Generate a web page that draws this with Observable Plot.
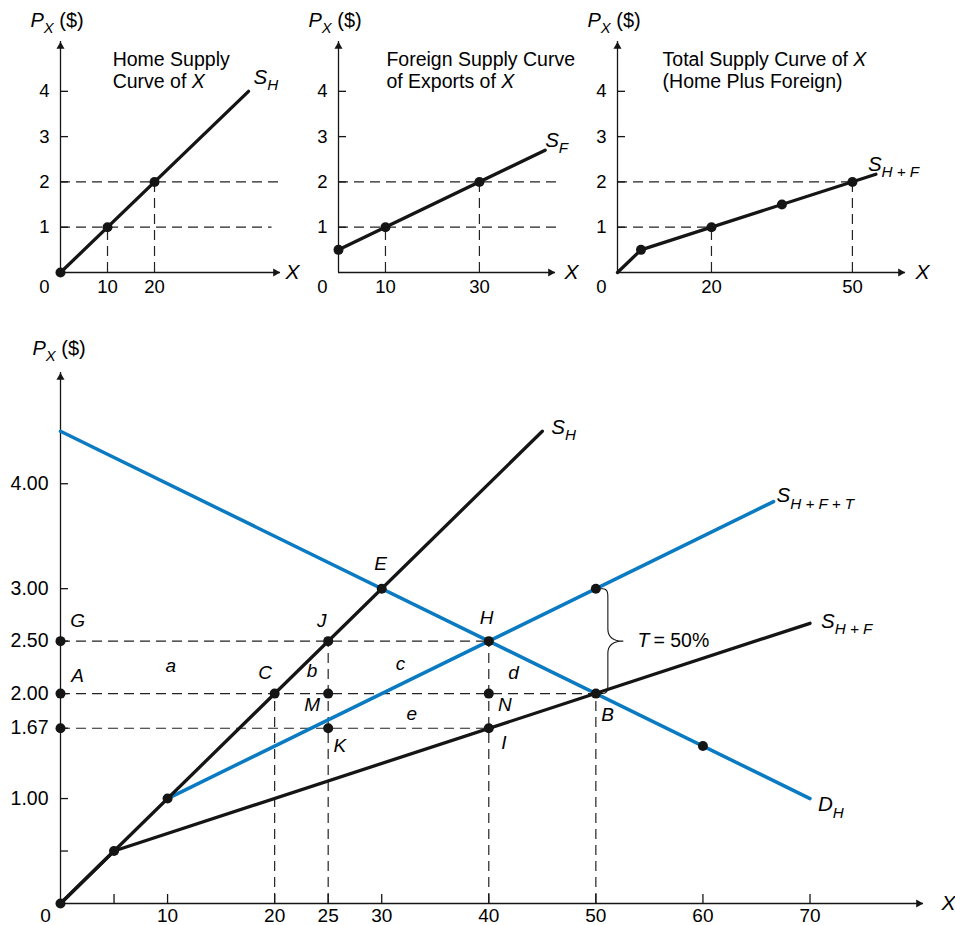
<!DOCTYPE html>
<html><head><meta charset="utf-8">
<script src="https://cdn.jsdelivr.net/npm/d3@7"></script>
<script src="https://cdn.jsdelivr.net/npm/@observablehq/plot@0.6"></script>
<style>
body{margin:0;background:#fff;}
#wrap{position:relative;width:955px;height:925px;overflow:hidden;}
.layer{position:absolute;left:0;}
</style></head><body><div id="wrap"></div>
<script>
// ---------- DATA: top panels ----------
const p1Curve = [{x:0,y:0},{x:40,y:4}];
const p1Dots = [{x:0,y:0},{x:10,y:1},{x:20,y:2}];
const p1DashH = [{y:2,x2:47.5},{y:1,x2:45}];
const p1DashV = [{x:10,y2:1},{x:20,y2:2}];
const p1XTicks = [10,20];
const p1Title = [{t:"Home Supply",x:11.1,y:4.70},{t:"§n:Curve of |i:X",x:11.1,y:4.21}];
const p1CurveLabel = "§i:S|ib:H";

const p2Curve = [{x:0,y:0.5},{x:44,y:2.7}];
const p2Dots = [{x:0,y:0.5},{x:10,y:1},{x:30,y:2}];
const p2DashH = [{y:2,x2:47.5},{y:1,x2:47.5}];
const p2DashV = [{x:10,y2:1},{x:30,y2:2}];
const p2XTicks = [10,30];
const p2Title = [{t:"Foreign Supply Curve",x:10.2,y:4.70},{t:"§n:of Exports of |i:X",x:10.2,y:4.21}];
const p2CurveLabel = "§i:S|ib:F";

const p3Curve = [{x:0,y:0},{x:5,y:0.5},{x:55,y:2.17}];
const p3Dots = [{x:5,y:0.5},{x:20,y:1},{x:35,y:1.5},{x:50,y:2}];
const p3DashH = [{y:2,x2:50},{y:1,x2:20}];
const p3DashV = [{x:20,y2:1},{x:50,y2:2}];
const p3XTicks = [20,50];
const p3Title = [{t:"§n:Total Supply Curve of |i:X",x:9.6,y:4.70},{t:"(Home Plus Foreign)",x:9.6,y:4.21}];
const p3CurveLabel = "§i:S|ib:H + F";

const topYTicks = [1,2,3,4];

// ---------- DATA: main panel ----------
const sH   = [{x:0,y:0},{x:45,y:4.5}];
const sHF  = [{x:0,y:0},{x:5,y:0.5},{x:70,y:2.67}];
const dH   = [{x:0,y:4.5},{x:70,y:1.0}];
const sHFT = [{x:10,y:1},{x:66.6,y:3.83}];
const mainDots = [
  {x:0,y:0},{x:5,y:0.5},{x:10,y:1},{x:20,y:2},{x:25,y:2.5},{x:30,y:3},
  {x:40,y:2.5},{x:50,y:2},{x:50,y:3},{x:60,y:1.5},{x:25,y:2},{x:25,y:1.67},
  {x:40,y:2},{x:40,y:1.67},{x:0,y:2.5},{x:0,y:2},{x:0,y:1.67}
];
const mainDashH = [{y:2.5,x2:40},{y:2,x2:50},{y:1.67,x2:40}];
const mainDashV = [{x:20,y2:2},{x:25,y2:2.5},{x:40,y2:2.5},{x:50,y2:2}];
const mainXTickMarks = [5,10,20,25,30,40,50,60,70];
const mainXTickLabels = [10,20,25,30,40,50,60,70];
const mainYTickMarks = [0.5,1,1.67,2,2.5,3,4];
const mainYTickVals = [1,1.67,2,2.5,3,4];
const mainYTickLabels = ["1.00","1.67","2.00","2.50","3.00","4.00"];
const pointLabels = [
  {t:"G",x:1.6,y:2.69},{t:"A",x:1.6,y:2.17},{t:"a",x:10.3,y:2.26},
  {t:"C",x:19.1,y:2.2},{t:"J",x:24.4,y:2.69},{t:"b",x:23.5,y:2.22},
  {t:"M",x:23.5,y:1.89},{t:"K",x:26.1,y:1.5},{t:"c",x:31.75,y:2.28},
  {t:"e",x:32.8,y:1.81},{t:"E",x:29.9,y:3.24},{t:"H",x:39.8,y:2.72},
  {t:"d",x:42.3,y:2.2},{t:"N",x:41.5,y:1.89},{t:"B",x:51.1,y:1.8},
  {t:"I",x:41.4,y:1.53}
];
const tariff = {x:50, yLow:2, yHigh:3, label:"§i:T|n:\u2009= 50%", labelX:53.9};
const curveLabels = [
  {t:"§i:S|ib:H", ref:sH[1], dx:9, dy:-4},
  {t:"§i:S|ib:H + F + T", ref:sHFT[1], dx:3, dy:-6},
  {t:"§i:S|ib:H + F", ref:sHF[2], dx:11, dy:-2},
  {t:"§i:D|ib:H", ref:dH[1], dx:8, dy:6}
];

// ---------- helpers ----------
const FONT = '"Liberation Sans", Arial, Helvetica, sans-serif';
const INK = "#151515";
const BLUE = "#0a7bc2";
const DASH = {stroke:"#222", strokeWidth:1.2, strokeDasharray:"10,6"};
const wrap = document.getElementById("wrap");

function richify(svg){
  svg.querySelectorAll("text").forEach(el => {
    const s = el.textContent;
    if (!s.startsWith("§")) return;
    const fs = parseFloat(getComputedStyle(el).fontSize) || 18;
    el.textContent = "";
    el.style.whiteSpace = "pre";
    let sub = false;
    for (const seg of s.slice(1).split("|")) {
      const k = seg.indexOf(":");
      const f = seg.slice(0,k), t = seg.slice(k+1);
      const ts = document.createElementNS("http://www.w3.org/2000/svg","tspan");
      ts.textContent = t;
      ts.setAttribute("font-style", f.includes("i") ? "italic" : "normal");
      const b = f.includes("b");
      if (b) ts.setAttribute("font-size", (fs*0.74).toFixed(1));
      if (b !== sub) ts.setAttribute("dy", ((b ? 1 : -1) * fs * 0.32).toFixed(1));
      sub = b;
      el.appendChild(ts);
    }
  });
}

function place(svg, top){
  const d = document.createElement("div");
  d.className = "layer";
  d.style.top = top + "px";
  d.appendChild(svg);
  wrap.appendChild(d);
  richify(svg);
}

// ---------- top panels ----------
function topPanel(o){
  const yMax = 5.1;
  const kx = (o.right - o.left) / o.xMax;
  return Plot.plot({
    width: 955, height: 300,
    style:{fontFamily:FONT, fontSize:"18px", background:"transparent", overflow:"visible"},
    x:{type:"linear", domain:[0,o.xMax], range:[o.left,o.right], axis:null},
    y:{type:"linear", domain:[0,yMax], range:[272,41], axis:null},
    marks:[
      Plot.ruleY(o.dashH, {y:"y", x1:0, x2:"x2", ...DASH}),
      Plot.ruleX(o.dashV, {x:"x", y1:0, y2:"y2", ...DASH}),
      Plot.ruleX([0], {y1:0, y2:yMax, stroke:INK, strokeWidth:1.3}),
      Plot.ruleY([0], {x1:0, x2:o.xMax, stroke:INK, strokeWidth:1.3}),
      Plot.dot([0], {x:0, y:yMax, symbol:"triangle", r:3, fill:INK, stroke:null, dy:5}),
      Plot.dot([0], {x:o.xMax, y:0, symbol:"triangle", r:3, fill:INK, stroke:null, dx:-5, rotate:90}),
      Plot.ruleY(topYTicks, {y:d=>d, x1:0, x2:8/kx, stroke:INK, strokeWidth:1.3}),
      Plot.text(topYTicks, {x:0, y:d=>d, text:d=>String(d), textAnchor:"end", dx:-11, fontSize:18.5}),
      Plot.text(o.xTicks, {x:d=>d, y:0, text:d=>String(d), dy:15, fontSize:18.5}),
      Plot.text(["0"], {x:0, y:0, text:d=>d, dx:-16, dy:15, fontSize:18.5}),
      Plot.text(["X"], {x:o.xMax, y:0, text:d=>d, dx:o.xLabDx, fontSize:21, fontStyle:"italic"}),
      Plot.text(["§i:P|ib:X|n: ($)"], {x:0, y:yMax, text:d=>d, textAnchor:"start", dx:-30, dy:-21, fontSize:20}),
      Plot.text(o.title, {x:"x", y:"y", text:"t", textAnchor:"start", fontSize:19.5}),
      Plot.line(o.curve, {x:"x", y:"y", stroke:INK, strokeWidth:3.3}),
      Plot.dot(o.dots, {x:"x", y:"y", r:5, fill:INK, stroke:null}),
      Plot.text([o.curve[o.curve.length-1]], {x:"x", y:"y", text:()=>o.curveLabel, textAnchor:"start", dx:o.labDx, dy:o.labDy, fontSize:20.5})
    ]
  });
}

place(topPanel({left:60, right:280, xMax:46.8, curve:p1Curve, dots:p1Dots, dashH:p1DashH, dashV:p1DashV,
  xTicks:p1XTicks, title:p1Title, curveLabel:p1CurveLabel, labDx:5, labDy:-14, xLabDx:12}), 0);
place(topPanel({left:338, right:555, xMax:46.2, curve:p2Curve, dots:p2Dots, dashH:p2DashH, dashV:p2DashV,
  xTicks:p2XTicks, title:p2Title, curveLabel:p2CurveLabel, labDx:0, labDy:-10, xLabDx:16}), 0);
place(topPanel({left:617, right:905, xMax:61.3, curve:p3Curve, dots:p3Dots, dashH:p3DashH, dashV:p3DashV,
  xTicks:p3XTicks, title:p3Title, curveLabel:p3CurveLabel, labDx:-8, labDy:-10, xLabDx:17}), 0);

// ---------- main panel ----------
const mxMax = 80.6, myMax = 5.06;
const mkx = (923-60)/mxMax, mky = (573-42)/myMax;

// curly brace between the two tariff points, built from the tariff data
function bez(p0,p1,p2,p3,n){
  const out=[];
  for(let i=0;i<=n;i++){const t=i/n,u=1-t;
    out.push([u*u*u*p0[0]+3*u*u*t*p1[0]+3*u*t*t*p2[0]+t*t*t*p3[0],
              u*u*u*p0[1]+3*u*u*t*p1[1]+3*u*t*t*p2[1]+t*t*t*p3[1]]);}
  return out;
}
const hPx = (tariff.yHigh - tariff.yLow) * mky, mid = hPx/2;
const bracePx = [
  ...bez([5,0],[12,0],[12,3],[12,11],10),
  ...bez([12,mid-12],[12,mid-3],[19,mid],[27,mid],10),
  ...bez([27,mid],[19,mid],[12,mid+3],[12,mid+12],10),
  ...bez([12,hPx-11],[12,hPx-3],[12,hPx],[5,hPx],10)
];
const brace = bracePx.map(([ox,oy]) => ({x: tariff.x + ox/mkx, y: tariff.yHigh - oy/mky}));

const mainPlot = Plot.plot({
  width:955, height:595,
  style:{fontFamily:FONT, fontSize:"19px", background:"transparent", overflow:"visible"},
  x:{type:"linear", domain:[0,mxMax], range:[60,923], axis:null},
  y:{type:"linear", domain:[0,myMax], range:[573,42], axis:null},
  marks:[
    Plot.ruleY(mainDashH, {y:"y", x1:0, x2:"x2", ...DASH}),
    Plot.ruleX(mainDashV, {x:"x", y1:0, y2:"y2", ...DASH}),
    Plot.ruleX([0], {y1:0, y2:myMax, stroke:INK, strokeWidth:1.3}),
    Plot.ruleY([0], {x1:0, x2:mxMax, stroke:INK, strokeWidth:1.3}),
    Plot.dot([0], {x:0, y:myMax, symbol:"triangle", r:3, fill:INK, stroke:null, dy:5}),
    Plot.dot([0], {x:mxMax, y:0, symbol:"triangle", r:3, fill:INK, stroke:null, dx:-5, rotate:90}),
    Plot.ruleX(mainXTickMarks, {x:d=>d, y1:0, y2:9/mky, stroke:INK, strokeWidth:1.3}),
    Plot.ruleY(mainYTickMarks, {y:d=>d, x1:0, x2:8/mkx, stroke:INK, strokeWidth:1.3}),
    Plot.text(mainXTickLabels, {x:d=>d, y:0, text:d=>String(d), dy:12, fontSize:19}),
    Plot.text(mainYTickVals, {x:0, y:d=>d, text:(d,i)=>mainYTickLabels[i], textAnchor:"end", dx:-12, fontSize:19.5}),
    Plot.text(["0"], {x:0, y:0, text:d=>d, dx:-15, dy:12, fontSize:19}),
    Plot.text(["X"], {x:mxMax, y:0, text:d=>d, dx:25, fontSize:21, fontStyle:"italic"}),
    Plot.text(["§i:P|ib:X|n: ($)"], {x:0, y:myMax, text:d=>d, textAnchor:"start", dx:-28, dy:-24, fontSize:20}),
    Plot.line(brace, {x:"x", y:"y", stroke:INK, strokeWidth:1.1, curve:"linear"}),
    Plot.line(dH, {x:"x", y:"y", stroke:BLUE, strokeWidth:3.5}),
    Plot.line(sHFT, {x:"x", y:"y", stroke:BLUE, strokeWidth:3.5}),
    Plot.line(sH, {x:"x", y:"y", stroke:INK, strokeWidth:3.3}),
    Plot.line(sHF, {x:"x", y:"y", stroke:INK, strokeWidth:3.3}),
    Plot.dot(mainDots, {x:"x", y:"y", r:5, fill:INK, stroke:null}),
    Plot.text(pointLabels, {x:"x", y:"y", text:"t", fontStyle:"italic", fontSize:19}),
    Plot.text([tariff], {x:"labelX", y:d=>(d.yLow+d.yHigh)/2, text:"label", textAnchor:"start", fontSize:19.5}),
    ...curveLabels.map(c => Plot.text([c], {x:d=>d.ref.x, y:d=>d.ref.y, text:"t", textAnchor:"start", dx:c.dx, dy:c.dy, fontSize:20.5}))
  ]
});
place(mainPlot, 330);
</script></body></html>
